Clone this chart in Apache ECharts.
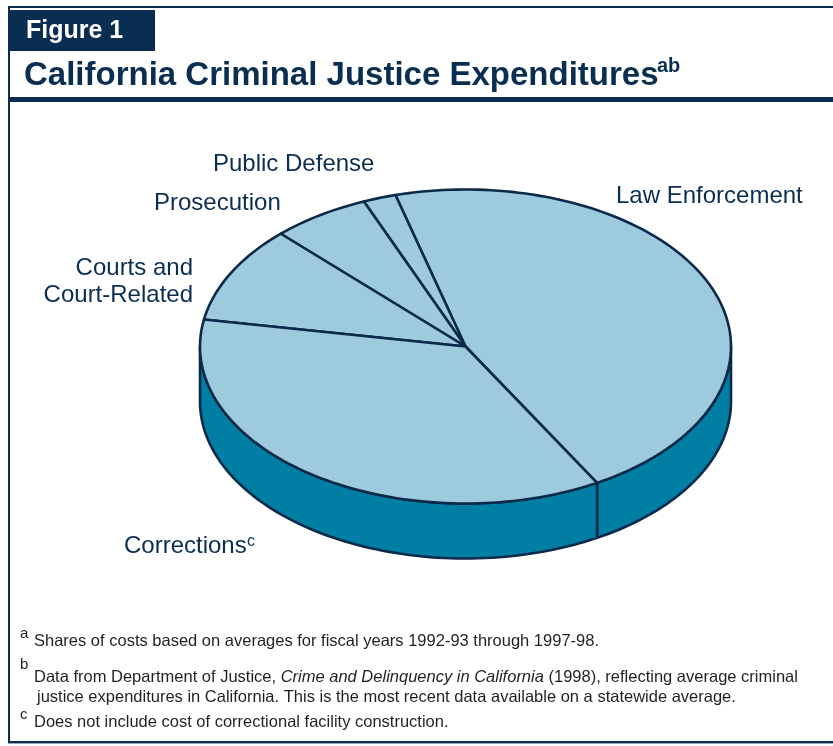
<!DOCTYPE html>
<html>
<head>
<meta charset="utf-8">
<script src="https://cdn.jsdelivr.net/npm/echarts@6/dist/echarts.min.js"></script>
<style>
  html, body { margin: 0; padding: 0; background: #fff; }
  #chart { width: 833px; height: 746px; }
</style>
</head>
<body>
<div id="chart"></div>
<script>
// shares of criminal justice spending (%), counter-clockwise from the Law Enforcement edge
var categories = ["Law Enforcement", "Public Defense", "Prosecution", "Courts and Court-Related", "Corrections"];
var shares = [46, 2, 6, 10, 36];

var figureLabel = "Figure 1";
var titleText = "California Criminal Justice Expenditures";
var footnotes = [
  ["a", "Shares of costs based on averages for fiscal years 1992-93 through 1997-98."],
  ["b", "{n|Data from Department of Justice, }{i|Crime and Delinquency in California}{n| (1998), reflecting average criminal}"],
  ["", "justice expenditures in California. This is the most recent data available on a statewide average."],
  ["c", "Does not include cost of correctional facility construction."]
];

var C = {
  navy: "#0a2d52",
  top: "#9dcadd",
  side: "#017ea3",
  edge: "#0b2a4a",
  note: "#231f20"
};
var FONT = "'Liberation Sans', Arial, Helvetica, sans-serif";

// 3D pie geometry (screen layout)
var PIE = { cx: 465.5, cy: 346.5, rx: 265.5, ry: 157, depth: 55, startAngle: -60.3 };

function pt(t, dy) {
  var r = t * Math.PI / 180;
  return [PIE.cx + PIE.rx * Math.cos(r), PIE.cy - PIE.ry * Math.sin(r) + (dy || 0)];
}
function arc(a0, a1, dy) {
  var n = Math.max(2, Math.ceil(Math.abs(a1 - a0) / 1.5));
  var pts = [];
  for (var i = 0; i <= n; i++) pts.push(pt(a0 + (a1 - a0) * i / n, dy));
  return pts;
}

var total = shares.reduce(function (a, b) { return a + b; }, 0);

function renderSlice(params, api) {
  var idx = params.dataIndex;
  var before = 0;
  for (var i = 0; i < idx; i++) before += shares[i];
  var start = PIE.startAngle + 360 * before / total;
  var end = start + 360 * api.value(1) / total;
  var children = [];
  var lineStyle = { stroke: C.edge, lineWidth: 2.6, lineJoin: "round" };

  // visible front wall: angles where the rim faces the viewer
  [-360, 0, 360].forEach(function (k) {
    var lo = Math.max(start, 180 + k), hi = Math.min(end, 360 + k);
    if (hi > lo) {
      children.push({
        type: "polygon",
        shape: { points: arc(lo, hi, 0).concat(arc(hi, lo, PIE.depth)) },
        style: Object.assign({ fill: C.side }, lineStyle)
      });
    }
  });

  children.push({
    type: "polygon",
    shape: { points: [[PIE.cx, PIE.cy]].concat(arc(start, end, 0)) },
    style: Object.assign({ fill: C.top }, lineStyle)
  });
  return { type: "group", children: children };
}

function txt(x, y, text, size, opts) {
  opts = opts || {};
  return {
    type: "text",
    x: x, y: y,
    silent: true,
    style: {
      text: text,
      font: (opts.weight || "normal") + " " + size + "px " + FONT,
      fill: opts.color || C.navy,
      align: opts.align || "left",
      verticalAlign: "middle",
      rich: opts.rich
    }
  };
}

var chart = echarts.init(document.getElementById("chart"), null, { renderer: "canvas" });

var graphics = [
  // frame
  { type: "rect", shape: { x: 8, y: 6, width: 825, height: 2 }, style: { fill: C.navy } },
  { type: "rect", shape: { x: 8, y: 6, width: 2, height: 738 }, style: { fill: C.navy } },
  { type: "rect", shape: { x: 8, y: 741, width: 825, height: 2 }, style: { fill: C.navy } },
  { type: "rect", shape: { x: 8, y: 743, width: 825, height: 1 }, style: { fill: "#9aa7b5" } },
  { type: "rect", shape: { x: 8, y: 10, width: 147, height: 41 }, style: { fill: C.navy } },
  { type: "rect", shape: { x: 8, y: 97, width: 825, height: 5 }, style: { fill: C.navy } },
  txt(26, 31, figureLabel, 25, { weight: "bold", color: "#ffffff" }),
  txt(24, 75.5, titleText, 33, { weight: "bold" }),
  txt(657, 66, "ab", 20, { weight: "bold" }),

  // slice labels
  txt(616, 196.5, categories[0], 24),
  txt(213, 164.5, categories[1], 24),
  txt(154, 203, categories[2], 24),
  txt(193, 268, "Courts and", 24, { align: "right" }),
  txt(193, 295, "Court-Related", 24, { align: "right" }),
  txt(124, 546.5, categories[4], 24),
  txt(247, 542, "c", 16)
];

// footnotes
var noteY = [641, 677, 697, 722];
var supY = [634, 665, 0, 715];
footnotes.forEach(function (f, i) {
  if (f[0]) graphics.push(txt(20, supY[i], f[0], 15, { color: C.note }));
  graphics.push(txt(i === 2 ? 37 : 34, noteY[i], f[1], 16.5, {
    color: C.note,
    rich: i === 1 ? {
      n: { font: "normal 16.5px " + FONT, fill: C.note },
      i: { font: "italic 16.5px " + FONT, fill: C.note }
    } : undefined
  }));
});

chart.setOption({
  animation: false,
  backgroundColor: "#ffffff",
  graphic: { elements: graphics },
  series: [{
    type: "custom",
    coordinateSystem: "none",
    silent: true,
    renderItem: renderSlice,
    data: shares.map(function (v, i) { return [i, v]; })
  }]
});

window.addEventListener("resize", function () { chart.resize(); });
</script>
</body>
</html>
